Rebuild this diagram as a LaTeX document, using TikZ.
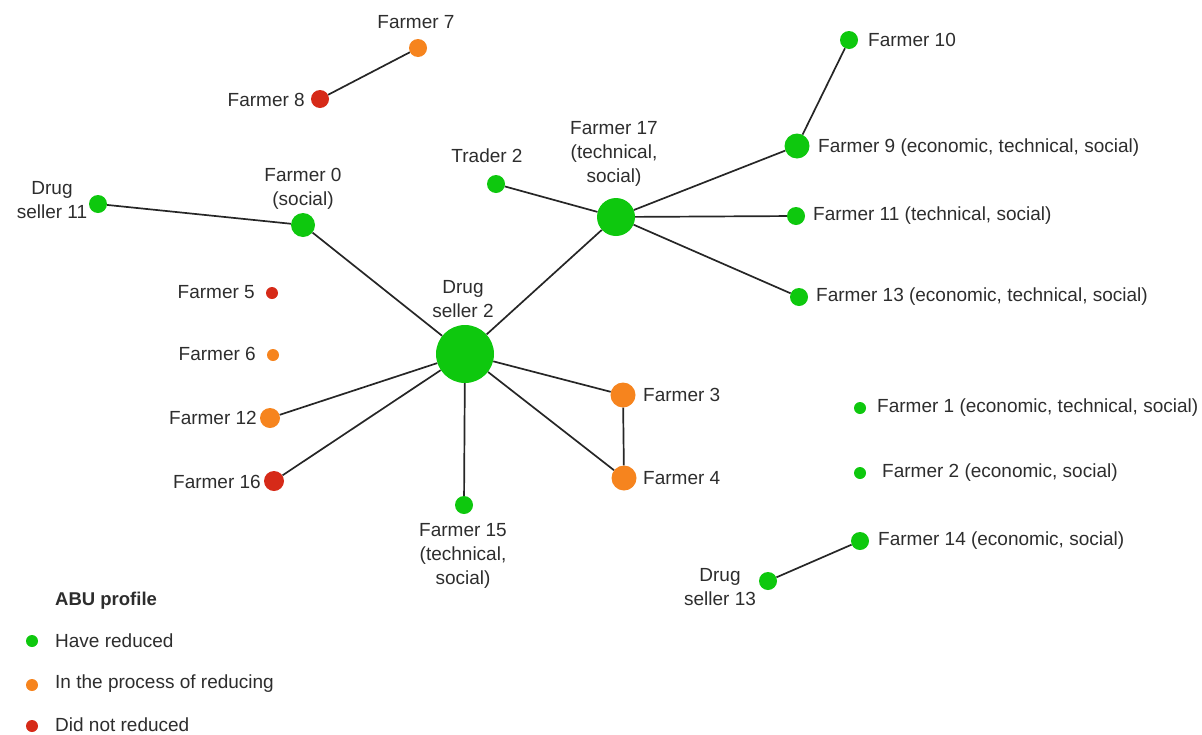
\documentclass[tikz,border=0pt]{standalone}
\usepackage{fontspec}
\setmainfont{Liberation Sans}
\usepackage{tikz}

\definecolor{abugreen}{RGB}{14,200,14}
\definecolor{abuorange}{RGB}{246,132,30}
\definecolor{abured}{RGB}{214,42,24}
\definecolor{txtgray}{RGB}{45,45,45}

\tikzset{
  dot/.style={circle, inner sep=0pt, draw=none},
  txt/.style={inner sep=0pt, text=txtgray, align=center, font=\fontsize{19}{24}\selectfont},
  link/.style={draw=black!85, line width=1.7pt}
}

\begin{document}
\begin{tikzpicture}[x=1pt, y=-1pt]
\useasboundingbox (0,0) rectangle (1202,734);
% dots
\node [dot, fill=abuorange, minimum size=18] (f7) at (418,48) {};
\node [dot, fill=abured, minimum size=18] (f8) at (320,99) {};
\node [dot, fill=abugreen, minimum size=18] (ds11) at (98,204) {};
\node [dot, fill=abugreen, minimum size=24] (f0) at (303,225) {};
\node [dot, fill=abured, minimum size=12] (f5) at (272,293) {};
\node [dot, fill=abuorange, minimum size=12] (f6) at (273,355) {};
\node [dot, fill=abuorange, minimum size=20] (f12) at (270,418) {};
\node [dot, fill=abured, minimum size=20] (f16) at (274,481) {};
\node [dot, fill=abugreen, minimum size=58] (ds2) at (465,354) {};
\node [dot, fill=abugreen, minimum size=18] (f15) at (464,505) {};
\node [dot, fill=abuorange, minimum size=25] (f3) at (623,395) {};
\node [dot, fill=abuorange, minimum size=25] (f4) at (624,478) {};
\node [dot, fill=abugreen, minimum size=18] (t2) at (496,184) {};
\node [dot, fill=abugreen, minimum size=38] (f17) at (616,217) {};
\node [dot, fill=abugreen, minimum size=18] (f10) at (849,40) {};
\node [dot, fill=abugreen, minimum size=25] (f9) at (797,146) {};
\node [dot, fill=abugreen, minimum size=18] (f11) at (796,216) {};
\node [dot, fill=abugreen, minimum size=18] (f13) at (799,297) {};
\node [dot, fill=abugreen, minimum size=12] (f1) at (860,408) {};
\node [dot, fill=abugreen, minimum size=12] (f2) at (860,473) {};
\node [dot, fill=abugreen, minimum size=18] (f14) at (860,541) {};
\node [dot, fill=abugreen, minimum size=18] (ds13) at (768,581) {};
% links
\draw [link] (f7) -- (f8);
\draw [link] (ds11) -- (f0);
\draw [link] (f0) -- (ds2);
\draw [link] (ds2) -- (f17);
\draw [link] (t2) -- (f17);
\draw [link] (f17) -- (f9);
\draw [link] (f17) -- (f11);
\draw [link] (f17) -- (f13);
\draw [link] (f9) -- (f10);
\draw [link] (ds2) -- (f12);
\draw [link] (ds2) -- (f16);
\draw [link] (ds2) -- (f15);
\draw [link] (ds2) -- (f3);
\draw [link] (ds2) -- (f4);
\draw [link] (f3) -- (f4);
\draw [link] (f14) -- (ds13);
% labels
\node [txt] (lf7) at (416,22) {Farmer 7};
\node [txt, anchor=east] (lf8) at (305,100) {Farmer 8};
\node [txt] (lds11) at (52,200) {Drug\\seller 11};
\node [txt] (lf0) at (303,189) {Farmer 0\\(social)};
\node [txt, anchor=east] (lf5) at (255,292) {Farmer 5};
\node [txt, anchor=east] (lf6) at (256,354) {Farmer 6};
\node [txt, anchor=east] (lf12) at (257,418) {Farmer 12};
\node [txt, anchor=east] (lf16) at (261,482) {Farmer 16};
\node [txt] (lds2) at (463,299) {Drug\\seller 2};
\node [txt] (lf15) at (463,556) {Farmer 15\\(technical,\\social)};
\node [txt, anchor=west] (lf3) at (643,395) {Farmer 3};
\node [txt, anchor=west] (lf4) at (643,478) {Farmer 4};
\node [txt] (lt2) at (487,156) {Trader 2};
\node [txt] (lf17) at (614,154) {Farmer 17\\(technical,\\social)};
\node [txt, anchor=west] (lf10) at (868,40) {Farmer 10};
\node [txt, anchor=west] (lf9) at (818,148) {Farmer 9 (economic, technical, social)};
\node [txt, anchor=west] (lf11) at (813,216) {Farmer 11 (technical, social)};
\node [txt, anchor=west] (lf13) at (816,297) {Farmer 13 (economic, technical, social)};
\node [txt, anchor=west] (lf1) at (877,408) {Farmer 1 (economic, technical, social)};
\node [txt, anchor=west] (lf2) at (882,473) {Farmer 2 (economic, social)};
\node [txt, anchor=west] (lf14) at (878,541) {Farmer 14 (economic, social)};
\node [txt] (lds13) at (720,587) {Drug\\seller 13};
% legend
\node [txt, anchor=west, font=\bfseries\fontsize{18.5}{22}\selectfont] (legtitle) at (55,601) {ABU profile};
\node [dot, fill=abugreen, minimum size=12] (leggreen) at (32,641) {};
\node [dot, fill=abuorange, minimum size=12] (legorange) at (32,685) {};
\node [dot, fill=abured, minimum size=12] (legred) at (32,726) {};
\node [txt, anchor=west, font=\fontsize{19}{22}\selectfont] (lgreen) at (55,641) {Have reduced};
\node [txt, anchor=west, font=\fontsize{19}{22}\selectfont] (lorange) at (55,684) {In the process of reducing};
\node [txt, anchor=west, font=\fontsize{19}{22}\selectfont] (lred) at (55,725) {Did not reduced};
\end{tikzpicture}
\end{document}
